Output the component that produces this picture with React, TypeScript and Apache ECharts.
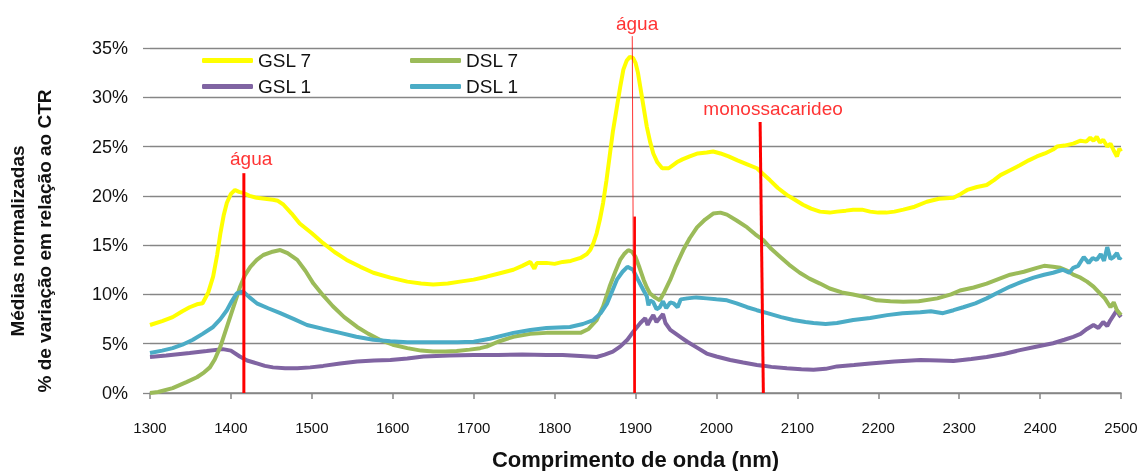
import React, { useEffect, useRef } from "react";
import * as echarts from "echarts";

const SERIES_NAMES = ["GSL 7", "DSL 7", "GSL 1", "DSL 1"];
const COLORS = ["#ffff00", "#9bbb59", "#8064a2", "#4bacc6"];

const gsl7: number[][] = [
  [1300, 6.9], [1315, 7.3], [1328, 7.7], [1340, 8.3], [1349, 8.7], [1358, 9.0], [1365, 9.1], [1372, 10.2],
  [1378, 11.8], [1383, 14.0], [1387, 16.2], [1391, 18.0], [1395, 19.3], [1400, 20.2], [1405, 20.6], [1410, 20.4],
  [1415, 20.3], [1423, 20.0], [1432, 19.8], [1442, 19.7], [1452, 19.6], [1458, 19.5], [1465, 19.1], [1475, 18.2],
  [1485, 17.2], [1500, 16.2], [1514, 15.2], [1528, 14.3], [1543, 13.5], [1560, 12.8], [1576, 12.2], [1597, 11.7],
  [1618, 11.3], [1635, 11.1], [1650, 11.0], [1668, 11.1], [1683, 11.3], [1700, 11.5], [1716, 11.8], [1730, 12.1],
  [1749, 12.5], [1760, 12.9], [1770, 13.3], [1775, 12.6], [1778, 13.2], [1790, 13.2], [1800, 13.1], [1810, 13.3],
  [1820, 13.4], [1832, 13.7], [1840, 14.1], [1844, 14.5], [1848, 15.2], [1852, 16.2], [1856, 17.6], [1860, 19.3],
  [1864, 21.5], [1868, 24.0], [1872, 26.5], [1877, 29.0], [1881, 31.0], [1885, 32.8], [1889, 33.7], [1893, 34.1],
  [1897, 34.0], [1900, 33.5], [1903, 32.5], [1906, 31.0], [1910, 29.0], [1914, 27.0], [1918, 25.5], [1922, 24.3],
  [1927, 23.4], [1933, 22.8], [1941, 22.8], [1946, 23.1], [1951, 23.4], [1958, 23.7], [1967, 24.0], [1977, 24.3],
  [1988, 24.4], [1996, 24.5], [2005, 24.3], [2015, 24.0], [2026, 23.6], [2038, 23.2], [2050, 22.8], [2058, 22.2],
  [2066, 21.6], [2076, 20.8], [2087, 20.1], [2097, 19.6], [2107, 19.1], [2117, 18.7], [2128, 18.4], [2140, 18.3],
  [2149, 18.4], [2160, 18.5], [2169, 18.6], [2180, 18.6], [2190, 18.4], [2200, 18.3], [2210, 18.3], [2220, 18.4],
  [2231, 18.6], [2245, 18.9], [2260, 19.4], [2275, 19.7], [2293, 19.8], [2302, 20.2], [2310, 20.6], [2322, 20.9],
  [2334, 21.1], [2343, 21.6], [2351, 22.1], [2363, 22.6], [2375, 23.1], [2386, 23.6], [2396, 24.0], [2406, 24.3],
  [2416, 24.7], [2421, 25.0], [2430, 25.1], [2441, 25.3], [2450, 25.6], [2457, 25.5], [2462, 25.9], [2466, 25.6],
  [2470, 26.0], [2474, 25.4], [2478, 25.7], [2483, 25.0], [2487, 25.3], [2491, 24.6], [2495, 24.0], [2498, 24.8],
  [2500, 24.5],
];

const dsl7: number[][] = [
  [1300, 0.0], [1310, 0.1], [1328, 0.5], [1345, 1.1], [1358, 1.6], [1367, 2.1], [1374, 2.6], [1380, 3.4],
  [1387, 4.7], [1393, 6.2], [1399, 7.7], [1405, 9.2], [1411, 10.7], [1417, 11.9], [1424, 12.8], [1432, 13.5],
  [1440, 14.0], [1450, 14.3], [1461, 14.5], [1470, 14.2], [1482, 13.5], [1492, 12.4], [1502, 11.1], [1514, 9.9],
  [1526, 8.8], [1540, 7.7], [1556, 6.7], [1570, 6.0], [1584, 5.4], [1600, 4.9], [1618, 4.55], [1635, 4.3],
  [1650, 4.2], [1665, 4.2], [1679, 4.25], [1695, 4.4], [1708, 4.55], [1716, 4.7], [1730, 5.2], [1749, 5.7],
  [1770, 6.0], [1790, 6.1], [1810, 6.1], [1832, 6.1], [1842, 6.5], [1852, 7.4], [1860, 8.8], [1868, 10.8],
  [1875, 12.3], [1881, 13.5], [1886, 14.1], [1891, 14.5], [1896, 14.3], [1900, 13.8], [1905, 12.7], [1910, 11.5],
  [1914, 10.7], [1918, 10.1], [1924, 9.7], [1930, 9.4], [1936, 10.3], [1943, 11.5], [1950, 12.9], [1959, 14.5],
  [1967, 15.7], [1976, 16.8], [1986, 17.6], [1996, 18.2], [2005, 18.3], [2013, 18.1], [2025, 17.5], [2038, 16.8],
  [2048, 16.1], [2058, 15.5], [2068, 14.6], [2079, 13.8], [2090, 13.0], [2103, 12.2], [2115, 11.6], [2128, 11.1],
  [2140, 10.6], [2155, 10.2], [2169, 10.0], [2185, 9.7], [2198, 9.4], [2215, 9.3], [2231, 9.25], [2250, 9.3],
  [2273, 9.6], [2290, 10.0], [2301, 10.4], [2318, 10.7], [2334, 11.1], [2350, 11.6], [2363, 12.0], [2380, 12.3],
  [2396, 12.7], [2405, 12.9], [2416, 12.8], [2425, 12.7], [2434, 12.4], [2441, 12.0], [2450, 11.7], [2458, 11.3],
  [2466, 10.8], [2474, 10.1], [2480, 9.6], [2487, 8.7], [2491, 9.2], [2495, 8.4], [2500, 7.9],
];

const gsl1: number[][] = [
  [1300, 3.65], [1320, 3.8], [1349, 4.05], [1370, 4.25], [1390, 4.45], [1400, 4.3], [1411, 3.7], [1420, 3.3],
  [1432, 3.0], [1442, 2.75], [1452, 2.6], [1467, 2.5], [1482, 2.5], [1498, 2.6], [1514, 2.75], [1535, 3.0],
  [1556, 3.2], [1577, 3.3], [1597, 3.35], [1618, 3.5], [1638, 3.7], [1670, 3.8], [1700, 3.85], [1730, 3.85],
  [1760, 3.9], [1790, 3.85], [1810, 3.85], [1832, 3.75], [1852, 3.65], [1862, 3.9], [1872, 4.2], [1881, 4.7],
  [1890, 5.4], [1898, 6.3], [1906, 7.1], [1912, 7.6], [1915, 6.9], [1918, 7.4], [1922, 7.9], [1926, 7.2],
  [1930, 7.6], [1934, 8.0], [1937, 7.1], [1943, 6.4], [1950, 6.0], [1957, 5.6], [1964, 5.2], [1976, 4.6],
  [1988, 4.0], [2000, 3.7], [2017, 3.35], [2033, 3.1], [2050, 2.85], [2068, 2.65], [2087, 2.5], [2105, 2.4],
  [2120, 2.35], [2135, 2.45], [2149, 2.7], [2170, 2.85], [2190, 3.0], [2220, 3.2], [2252, 3.35], [2275, 3.3],
  [2293, 3.25], [2315, 3.45], [2334, 3.65], [2355, 3.95], [2375, 4.35], [2395, 4.7], [2416, 5.05], [2430, 5.4],
  [2441, 5.7], [2450, 6.0], [2458, 6.5], [2466, 6.9], [2472, 6.6], [2478, 7.2], [2483, 6.8], [2487, 7.4],
  [2491, 7.9], [2495, 8.4], [2498, 7.9], [2500, 7.7],
];

const dsl1: number[][] = [
  [1300, 4.05], [1315, 4.3], [1328, 4.55], [1340, 4.9], [1353, 5.4], [1365, 6.0], [1378, 6.7], [1387, 7.5],
  [1395, 8.4], [1401, 9.3], [1407, 10.1], [1415, 10.3], [1423, 9.7], [1432, 9.1], [1446, 8.6], [1461, 8.1],
  [1478, 7.5], [1494, 6.9], [1514, 6.5], [1535, 6.1], [1555, 5.7], [1576, 5.4], [1597, 5.25], [1618, 5.15],
  [1638, 5.15], [1658, 5.15], [1680, 5.15], [1700, 5.2], [1720, 5.5], [1749, 6.1], [1770, 6.4], [1790, 6.6],
  [1819, 6.7], [1835, 7.0], [1848, 7.4], [1857, 8.1], [1865, 9.1], [1871, 10.3], [1877, 11.5], [1884, 12.3],
  [1890, 12.8], [1897, 12.5], [1903, 11.5], [1910, 10.4], [1914, 9.8], [1916, 8.9], [1918, 9.4], [1922, 9.2],
  [1926, 8.5], [1930, 8.7], [1934, 9.3], [1938, 8.6], [1943, 9.2], [1947, 9.1], [1952, 8.7], [1956, 9.5],
  [1964, 9.6], [1975, 9.7], [1988, 9.6], [2000, 9.5], [2013, 9.4], [2025, 9.1], [2038, 8.7], [2050, 8.4],
  [2063, 8.1], [2080, 7.7], [2095, 7.4], [2110, 7.2], [2120, 7.1], [2135, 7.0], [2149, 7.1], [2169, 7.4],
  [2190, 7.6], [2211, 7.9], [2230, 8.1], [2252, 8.2], [2265, 8.3], [2280, 8.1], [2293, 8.4], [2305, 8.7],
  [2320, 9.1], [2334, 9.6], [2348, 10.2], [2363, 10.8], [2378, 11.3], [2392, 11.7], [2405, 12.0], [2416, 12.2],
  [2428, 12.5], [2436, 12.2], [2441, 12.7], [2447, 12.9], [2454, 13.8], [2460, 13.2], [2465, 13.7], [2470, 13.5],
  [2475, 14.1], [2479, 13.4], [2483, 14.8], [2487, 13.6], [2491, 13.8], [2495, 14.2], [2498, 13.6], [2500, 13.8],
];

// Annotation lines in data units: top point -> bottom point
const annotationLines = [
  { from: [1416, 22.3], to: [1416, 0], width: 3, opacity: 1 },
  { from: [1896, 36.2], to: [1898, 0], width: 1, opacity: 0.8 },
  { from: [1899, 17.9], to: [1899, 0], width: 2.5, opacity: 1 },
  { from: [2054, 27.5], to: [2058, 0], width: 3, opacity: 1 },
];
const annotationLabels: (number | string)[][] = [
  [1425, 23.8, "água"],
  [1902, 37.5, "água"],
  [2070, 28.9, "monossacarideo"],
];

const FONT = "Liberation Sans";

export default function App() {
  const ref = useRef<HTMLDivElement>(null);
  useEffect(() => {
    if (!ref.current) return;
    const chart = echarts.init(ref.current, undefined, { renderer: "svg" });
    const seriesData = [gsl7, dsl7, gsl1, dsl1];
    const legendPos = [
      { left: 202, top: 51 },
      { left: 410, top: 51 },
      { left: 202, top: 77 },
      { left: 410, top: 77 },
    ];
    const drawOrder = [2, 1, 3, 0];
    chart.setOption({
      animation: false,
      grid: { left: 150, right: 19, top: 48, bottom: 78, outerBoundsMode: "none", containLabel: false },
      legend: SERIES_NAMES.map((n, i) => ({
        data: [n],
        left: legendPos[i].left,
        top: legendPos[i].top,
        padding: 0,
        itemWidth: 51,
        itemHeight: 5,
        icon: "roundRect",
        selectedMode: false,
        textStyle: { fontSize: 19, color: "#111", fontFamily: FONT },
      })),
      xAxis: {
        type: "value",
        min: 1300,
        max: 2500,
        interval: 100,
        name: "Comprimento de onda (nm)",
        nameLocation: "middle",
        nameGap: 55,
        nameTextStyle: { fontSize: 22, fontWeight: "bold", color: "#111", fontFamily: FONT },
        axisLine: { show: true, lineStyle: { color: "#868686", width: 1.5 } },
        axisTick: { show: true, length: 6, lineStyle: { color: "#868686", width: 1.5 } },
        axisLabel: {
          fontSize: 15,
          color: "#111",
          margin: 27,
          fontFamily: FONT,
          formatter: (v: number) => String(v),
        },
        splitLine: { show: false },
      },
      yAxis: {
        type: "value",
        min: 0,
        max: 35,
        interval: 5,
        axisLine: { show: false },
        axisTick: { show: true, length: 7, lineStyle: { color: "#868686", width: 1.3 } },
        axisLabel: { fontSize: 18, color: "#111", margin: 22, formatter: "{value}%", fontFamily: FONT },
        splitLine: { show: true, lineStyle: { color: "#868686", width: 1.3 } },
      },
      series: [
        ...drawOrder.map((i) => ({
          name: SERIES_NAMES[i],
          type: "line",
          data: seriesData[i],
          showSymbol: false,
          symbol: "none",
          silent: true,
          lineStyle: { color: COLORS[i], width: 4 },
          itemStyle: { color: COLORS[i] },
          z: 2,
        })),
        {
          name: "labels",
          type: "scatter",
          data: annotationLabels,
          symbolSize: 1,
          silent: true,
          clip: false,
          itemStyle: { color: "rgba(0,0,0,0)" },
          z: 6,
          label: {
            show: true,
            position: "inside",
            formatter: (p: any) => p.data[2],
            color: "#ff0000",
            fontSize: 19,
            fontFamily: FONT,
          },
        },
      ],
    });

    // Annotation lines placed through the chart's own scales
    const px = (p: number[]) => chart.convertToPixel({ gridIndex: 0 }, p) as number[];
    const lineGraphics = annotationLines.map((a) => {
      const p1 = px(a.from);
      const p2 = px(a.to);
      return {
        type: "line",
        silent: true,
        z: 100,
        shape: { x1: p1[0], y1: p1[1], x2: p2[0], y2: p2[1] },
        style: { stroke: "#ff0000", lineWidth: a.width, opacity: a.opacity },
      };
    });
    chart.setOption({
      graphic: [
        ...lineGraphics,
        {
          type: "text",
          x: 31,
          y: 241,
          rotation: Math.PI / 2,
          silent: true,
          style: {
            text: "Médias normalizadas\n% de variação em relação ao CTR",
            fontSize: 19,
            fontWeight: "bold",
            fontFamily: FONT,
            fill: "#111",
            textAlign: "center",
            textVerticalAlign: "middle",
            lineHeight: 27,
          },
        },
      ],
    });
    return () => chart.dispose();
  }, []);
  return (
    <div
      ref={ref}
      style={{ position: "fixed", left: 0, top: 0, width: 1140, height: 471 }}
    />
  );
}
